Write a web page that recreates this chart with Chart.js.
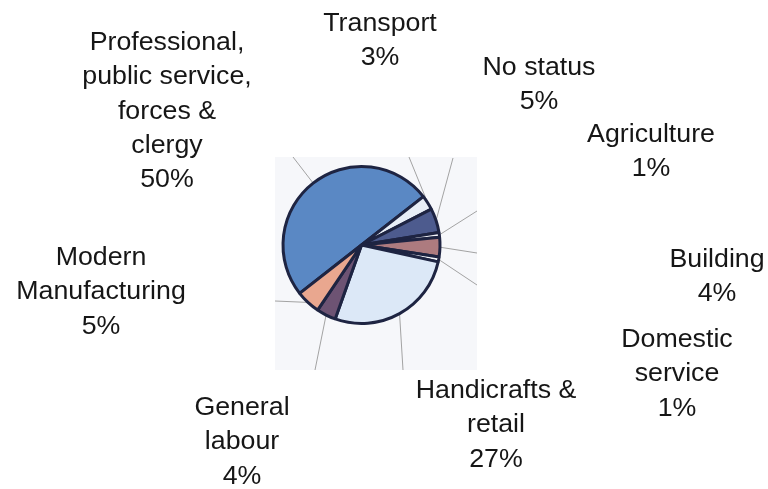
<!DOCTYPE html>
<html>
<head>
<meta charset="utf-8">
<script src="https://cdn.jsdelivr.net/npm/chart.js@4.4.1/dist/chart.umd.min.js"></script>
<style>
  html, body { margin: 0; padding: 0; background: #ffffff; }
  #wrap { width: 768px; height: 489px; position: relative; }
</style>
</head>
<body>
<div id="wrap"><canvas id="c" width="768" height="489"></canvas></div>
<script>
// ---- data ----
const categories = [
  ["Professional,", "public service,", "forces &", "clergy"],
  ["Transport"],
  ["No status"],
  ["Agriculture"],
  ["Building"],
  ["Domestic", "service"],
  ["Handicrafts &", "retail"],
  ["General", "labour"],
  ["Modern", "Manufacturing"]
];
const shares = [50, 3, 5, 1, 4, 1, 27, 4, 5];
const percentLabels = shares.map(v => v + "%");

// ---- style / layout ----
const sliceColors = ["#5a88c4", "#e8eef7", "#4d5b8e", "#f3f5fa", "#ad7b7f", "#f3f5fa", "#dce8f7", "#6d5373", "#e9a78f"];
// label anchor: centre x, first baseline y
const labelAnchors = [
  [167, 50], [380, 31], [539, 75], [651, 142], [717, 267],
  [677, 347], [496, 398], [242, 415], [101, 265]
];
// leader line outer end points (on the shaded square edge)
const leaderEnds = [
  [293, 157], [409, 157], [453, 158], [477, 211], [477, 253],
  [477, 285], [403, 370], [315, 370], [275, 301]
];
const panel = { x: 275, y: 157, w: 202, h: 213 };
const lineGap = 34.3;

const decor = {
  id: 'decor',
  beforeDraw(chart) {
    const ctx = chart.ctx;
    ctx.save();
    ctx.fillStyle = '#f6f7fa';
    ctx.fillRect(panel.x, panel.y, panel.w, panel.h);
    // leader lines from slice mid-angle on the rim
    const meta = chart.getDatasetMeta(0);
    ctx.strokeStyle = '#a3a3a3';
    ctx.lineWidth = 1;
    meta.data.forEach((arc, i) => {
      const p = arc.getProps(['x', 'y', 'startAngle', 'endAngle', 'outerRadius'], true);
      const mid = (p.startAngle + p.endAngle) / 2;
      const sx = p.x + Math.cos(mid) * p.outerRadius;
      const sy = p.y + Math.sin(mid) * p.outerRadius;
      ctx.beginPath();
      ctx.moveTo(leaderEnds[i][0], leaderEnds[i][1]);
      ctx.lineTo(sx, sy);
      ctx.stroke();
    });
    ctx.restore();
  },
  afterDraw(chart) {
    const ctx = chart.ctx;
    ctx.save();
    ctx.fillStyle = '#161616';
    ctx.font = '25px "Liberation Sans", Arial, sans-serif';
    ctx.textAlign = 'center';
    ctx.textBaseline = 'alphabetic';
    categories.forEach((lines, i) => {
      const all = lines.concat([percentLabels[i]]);
      const [cx, y0] = labelAnchors[i];
      all.forEach((t, k) => {
        ctx.save();
        ctx.translate(cx, y0 + k * lineGap);
        ctx.scale(1.07, 1);
        ctx.fillText(t, 0, 0);
        ctx.restore();
      });
    });
    ctx.restore();
  }
};

new Chart(document.getElementById('c'), {
  type: 'pie',
  data: {
    labels: categories.map(l => l.join(' ')),
    datasets: [{
      data: shares,
      backgroundColor: sliceColors,
      borderColor: '#1e2442',
      borderWidth: 3
    }]
  },
  options: {
    responsive: false,
    animation: false,
    rotation: 232,
    layout: { padding: { left: 281.5, right: 326.5, top: 165, bottom: 164 } },
    plugins: { legend: { display: false }, tooltip: { enabled: false } }
  },
  plugins: [decor]
});
</script>
</body>
</html>
